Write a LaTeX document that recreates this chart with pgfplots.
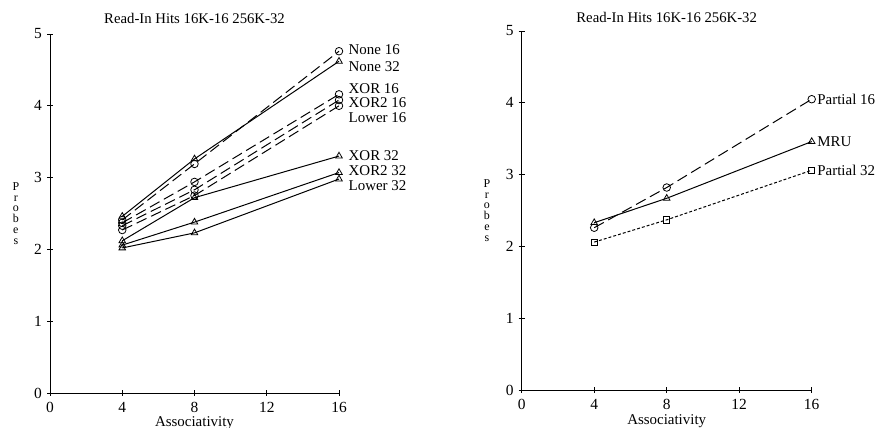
\documentclass[border=0pt]{standalone}
\usepackage{fontspec}
\setmainfont{Liberation Serif}
\usepackage{pgfplots}
\pgfplotsset{compat=1.18}
\tikzset{lbl/.style={anchor=west, inner sep=0.5bp}, long/.style={dash pattern=on 11pt off 5pt}}
\begin{document}
\fontsize{15}{17}\selectfont
\begin{tikzpicture}
\path[use as bounding box] (0bp,0bp) rectangle (876bp,428bp);
\pgfplotsset{
  myaxis/.style={
    scale only axis,
    axis lines=left,
    axis line style={-, line width=1pt},
    xmin=0, xmax=16, ymin=0, ymax=5,
    xtick={0,4,8,12,16}, ytick={0,1,2,3,4,5},
    tick align=center, major tick length=6pt,
    tick style={black, line width=0.9pt},
    /pgf/number format/assume math mode=true,
    ticklabel style={font=\fontsize{15.5}{17}\selectfont},
    xticklabel style={yshift=-1bp},
    clip=false,
    title={Read-In Hits 16K-16 256K-32},
    title style={anchor=base, font=\fontsize{14.8}{17}\selectfont},
    xlabel={Associativity},
    ylabel={P\\r\\o\\b\\e\\s},
    ylabel style={rotate=-90, align=center, anchor=center, font=\fontsize{12}{10.8}\selectfont},
    xlabel style={anchor=base, font=\fontsize{15}{17}\selectfont},
    every axis plot/.append style={black, line width=1pt, mark size=3.8pt, mark options={solid, line width=0.8pt}},
  },
}
\begin{axis}[myaxis, at={(50bp,35bp)}, anchor=south west, width=289bp, height=359bp,
  title style={yshift=5bp},
  ylabel style={at={(axis description cs:-0.118,0.5)}},
  xlabel style={at={(axis description cs:0.5,-0.092)}}]
\addplot[long, mark=o] coordinates {(4,2.41) (8,3.19) (16,4.76)};
\addplot[solid, mark=triangle] coordinates {(4,2.46) (8,3.26) (16,4.62)};
\addplot[long, mark=o] coordinates {(4,2.37) (8,2.94) (16,4.16)};
\addplot[long, mark=o] coordinates {(4,2.33) (8,2.83) (16,4.08)};
\addplot[long, mark=o] coordinates {(4,2.27) (8,2.75) (16,4.00)};
\addplot[solid, mark=triangle] coordinates {(4,2.12) (8,2.72) (16,3.30)};
\addplot[solid, mark=triangle] coordinates {(4,2.06) (8,2.38) (16,3.07)};
\addplot[solid, mark=triangle] coordinates {(4,2.02) (8,2.23) (16,2.98)};
\node[lbl, xshift=9bp] at (axis cs:16,4.78) {None 16};
\node[lbl, xshift=9bp] at (axis cs:16,4.55) {None 32};
\node[lbl, xshift=9bp] at (axis cs:16,4.24) {XOR 16};
\node[lbl, xshift=9bp] at (axis cs:16,4.04) {XOR2 16};
\node[lbl, xshift=9bp] at (axis cs:16,3.83) {Lower 16};
\node[lbl, xshift=9bp] at (axis cs:16,3.30) {XOR 32};
\node[lbl, xshift=9bp] at (axis cs:16,3.10) {XOR2 32};
\node[lbl, xshift=9bp] at (axis cs:16,2.89) {Lower 32};
\end{axis}
\begin{axis}[myaxis, at={(521.7bp,38bp)}, anchor=south west, width=290bp, height=359bp,
  title style={yshift=3bp},
  ylabel style={at={(axis description cs:-0.12,0.5)}},
  xlabel style={at={(axis description cs:0.5,-0.097)}}]
\addplot[long, mark=o] coordinates {(4,2.26) (8,2.82) (16,4.05)};
\addplot[solid, mark=triangle] coordinates {(4,2.33) (8,2.67) (16,3.46)};
\addplot[dash pattern=on 3pt off 2pt, mark=square, mark size=3.2pt] coordinates {(4,2.06) (8,2.37) (16,3.06)};
\node[lbl, xshift=5bp] at (axis cs:16,4.05) {Partial 16};
\node[lbl, xshift=5bp] at (axis cs:16,3.46) {MRU};
\node[lbl, xshift=5bp] at (axis cs:16,3.06) {Partial 32};
\end{axis}
\end{tikzpicture}
\end{document}
